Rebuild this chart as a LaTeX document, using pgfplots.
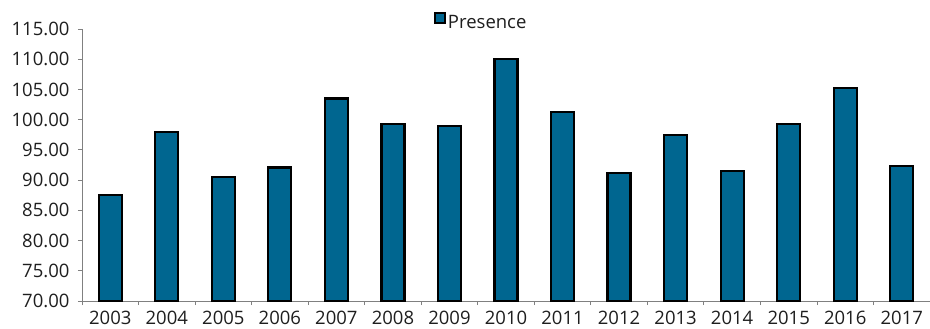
\documentclass[border=0pt]{standalone}
\usepackage{fontspec}
\setmainfont{Open Sans}
\usepackage{pgfplots}
\pgfplotsset{compat=1.18}
\definecolor{barblue}{RGB}{0,102,144}
\definecolor{axgray}{RGB}{128,128,128}
\definecolor{txt}{RGB}{30,30,30}
\begin{document}
\begin{tikzpicture}
\useasboundingbox (-82bp,-28bp) rectangle (848bp,301bp);
\begin{axis}[
  at={(0,0)}, anchor=south west,
  scale only axis, width=848bp, height=272bp,
  xmin=-0.5, xmax=14.5, ymin=70, ymax=115,
  ytick={70,75,...,115},
  xtick={0,...,14},
  xticklabels={2003,2004,2005,2006,2007,2008,2009,2010,2011,2012,2013,2014,2015,2016,2017},
  minor xtick={-0.5,0.5,...,14.5},
  axis x line*=bottom, axis y line*=left,
  axis line style={axgray, line width=0.8bp, -},
  tick align=outside,
  major tick length=4bp, minor tick length=4bp,
  major x tick style={draw=none},
  minor x tick style={axgray, line width=0.8bp},
  ytick style={axgray, line width=0.8bp},
  tick label style={font=\fontsize{18.5bp}{22bp}\selectfont, text=txt},
  yticklabel style={/pgf/number format/.cd, fixed, fixed zerofill, precision=2, assume math mode=true, /tikz/.cd, xshift=-5bp},
  xticklabel style={yshift=-3bp},
  ybar, bar width=23bp,
  legend style={at={(0.471,1)}, anchor=south, draw=none, fill=none, inner sep=0pt, outer sep=0pt,
    font=\fontsize{18.5bp}{22bp}\selectfont, text=txt, yshift=-3bp},
  legend image code/.code={\draw[fill=barblue, draw=black, line width=1.6bp] (0bp,-0.5bp) rectangle (10bp,9.5bp);},
]
\addplot[fill=barblue, draw=black, line width=2.2bp] coordinates {
  (0,87.5) (1,97.9) (2,90.5) (3,92.1) (4,103.5) (5,99.3) (6,98.9) (7,110.0)
  (8,101.3) (9,91.2) (10,97.4) (11,91.5) (12,99.3) (13,105.3) (14,92.3)
};
\addlegendentry{Presence}
\end{axis}
\end{tikzpicture}
\end{document}
